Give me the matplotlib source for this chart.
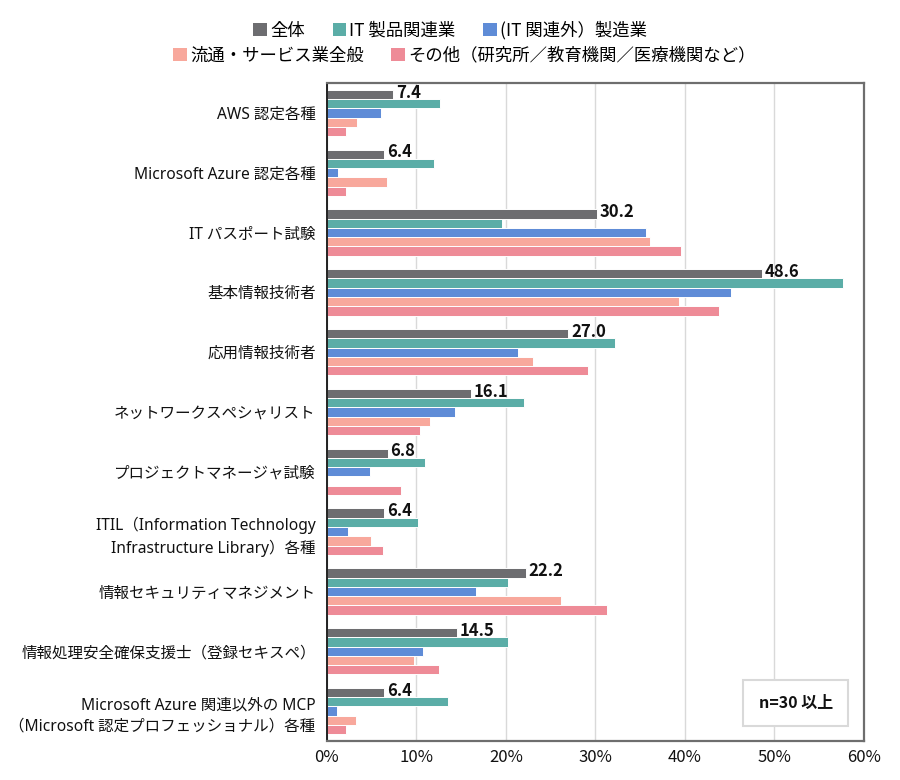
import matplotlib
matplotlib.use("Agg")
import matplotlib.pyplot as plt
from matplotlib.patches import Patch
import numpy as np

plt.rcParams['font.family'] = ['Noto Sans CJK JP', 'DejaVu Sans']

categories = [
    "AWS 認定各種",
    "Microsoft Azure 認定各種",
    "IT パスポート試験",
    "基本情報技術者",
    "応用情報技術者",
    "ネットワークスペシャリスト",
    "プロジェクトマネージャ試験",
    "ITIL（Information Technology\nInfrastructure Library）各種",
    "情報セキュリティマネジメント",
    "情報処理安全確保支援士（登録セキスペ）",
    "Microsoft Azure 関連以外の MCP\n（Microsoft 認定プロフェッショナル）各種",
]

series_names = [
    "全体",
    "IT 製品関連業",
    "(IT 関連外）製造業",
    "流通・サービス業全般",
    "その他（研究所／教育機関／医療機関など）",
]

overall      = [7.4, 6.4, 30.2, 48.6, 27.0, 16.1, 6.8, 6.4, 22.2, 14.5, 6.4]
it_products  = [12.7, 12.0, 19.6, 57.6, 32.2, 22.0, 11.0, 10.2, 20.2, 20.2, 13.6]
manufacture  = [6.1, 1.3, 35.7, 45.2, 21.4, 14.3, 4.8, 2.4, 16.7, 10.7, 1.2]
distribution = [3.4, 6.7, 36.1, 39.3, 23.0, 11.5, 0.0, 4.9, 26.2, 9.8, 3.3]
others       = [2.1, 2.1, 39.6, 43.8, 29.2, 10.4, 8.3, 6.3, 31.3, 12.5, 2.1]

xticks = [0, 10, 20, 30, 40, 50, 60]
xtick_labels = ["0%", "10%", "20%", "30%", "40%", "50%", "60%"]

colors = ["#6d6d70", "#5bada7", "#5f8cd7", "#f8a89c", "#ee8b97"]
series = [overall, it_products, manufacture, distribution, others]

fig = plt.figure(figsize=(9, 7.8), dpi=100)
ax = fig.add_axes([0.363, 0.05, 0.597, 0.8436])

y = np.arange(len(categories))
h = 0.155
for i, (vals, c) in enumerate(zip(series, colors)):
    ax.barh(y + (i - 2) * h, vals, height=h, color=c, edgecolor="white",
            linewidth=0.7, zorder=3)

for yi, v in zip(y, overall):
    ax.annotate(f"{v:.1f}", xy=(v, yi - 2 * h - 0.03), xytext=(2, 0),
                textcoords="offset points", ha="left", va="center",
                fontsize=12, fontweight="bold", color="#111111", zorder=4)

ax.set_xlim(0, 60)
ax.set_ylim(len(categories) - 0.5, -0.5)
ax.set_xticks(xticks)
ax.set_xticklabels(xtick_labels, fontsize=12, color="#111111")
ax.set_yticks(y)
ax.set_yticklabels(categories, fontsize=11.2, color="#111111", linespacing=1.45,
                   family=['Noto Sans', 'Noto Sans CJK JP', 'DejaVu Sans'])
ax.tick_params(axis="both", length=0)
ax.tick_params(axis="y", pad=8)
ax.tick_params(axis="x", pad=6)
ax.xaxis.grid(True, color="#d9d9d9", linewidth=1.0, zorder=0)
ax.set_axisbelow(True)

ax.spines["left"].set_color("#111111")
ax.spines["left"].set_linewidth(1.3)
for s in ["top", "right", "bottom"]:
    ax.spines[s].set_color("#6e6e6e")
    ax.spines[s].set_linewidth(1.6)
for s in ax.spines.values():
    s.set_zorder(6)

ax.text(0.873, 0.058, "n=30 以上", transform=ax.transAxes, ha="center",
        va="center", fontsize=11.5, fontweight="bold", color="#111111",
        bbox=dict(boxstyle="square,pad=0.95", facecolor="white",
                  edgecolor="#d9d9d9", linewidth=1.5), zorder=5)

handles = [Patch(facecolor=c, edgecolor="none") for c in colors]
leg_kw = dict(frameon=False, fontsize=12.5, handlelength=0.8, handleheight=0.8,
              handletextpad=0.15, columnspacing=1.6, borderaxespad=0)
fig.legend(handles[:3], series_names[:3], loc="center", ncol=3,
           bbox_to_anchor=(0.5, 0.961), **leg_kw)
fig.legend(handles[3:], series_names[3:], loc="center", ncol=2,
           bbox_to_anchor=(0.516, 0.929), **leg_kw)

fig.savefig("out.png", dpi=100)
